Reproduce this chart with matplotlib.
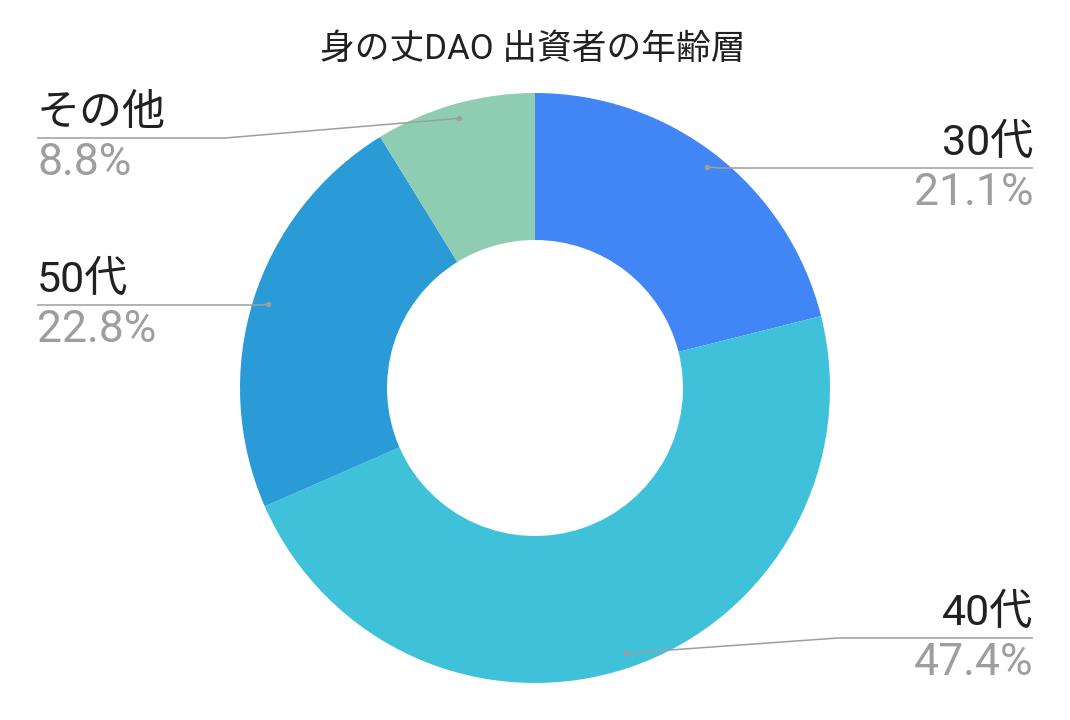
import matplotlib.pyplot as plt
import numpy as np

# data
labels = ['30代', '40代', '50代', 'その他']
values = [21.1, 47.4, 22.8, 8.8]
colors = ['#4285F4', '#40C1DA', '#2A9BD6', '#8FCDB2']
title = '身の丈DAO 出資者の年齢層'

fonts = ['Roboto', 'Noto Sans CJK JP', 'DejaVu Sans']
plt.rcParams['font.family'] = fonts

W, H = 1070, 720
fig = plt.figure(figsize=(W / 100, H / 100), dpi=100)
ax = fig.add_axes([0, 0, 1, 1])

cx, cy, R = 535, H - 388, 295
wedges, _ = ax.pie(values, colors=colors, startangle=90, counterclock=False,
                   center=(cx, cy), radius=R,
                   wedgeprops=dict(width=147, edgecolor='none'))
ax.set_xlim(0, W)
ax.set_ylim(0, H)
ax.set_aspect('equal')
ax.axis('off')

# label layout: (side, line y in px from top, elbow x)
layout = [('right', 168, 720), ('right', 638, 838),
          ('left', 305, 260), ('left', 138, 225)]
line_col = '#9E9E9E'

for w, lab, v, (side, ly, ex) in zip(wedges, labels, values, layout):
    ang = np.deg2rad((w.theta1 + w.theta2) / 2)
    px = cx + 0.95 * R * np.cos(ang)
    py = cy + 0.95 * R * np.sin(ang)
    yy = H - ly
    end_x = 1033 if side == 'right' else 37
    ax.plot([px, ex, end_x], [py, yy, yy], color=line_col, lw=1.1,
            solid_capstyle='butt', zorder=3)
    ax.plot(px, py, 'o', color=line_col, ms=3, zorder=4)
    ha = 'right' if side == 'right' else 'left'
    ax.text(end_x, yy + 4, lab, ha=ha, va='bottom', fontsize=31,
            color='#212121')
    ax.text(end_x, yy - 4, f'{v:.1f}%', ha=ha, va='top', fontsize=32,
            color='#9E9E9E')

ax.text(533, H - 50, title, ha='center', va='center', fontsize=25,
        color='#212121')

plt.savefig('out.png', dpi=100)
